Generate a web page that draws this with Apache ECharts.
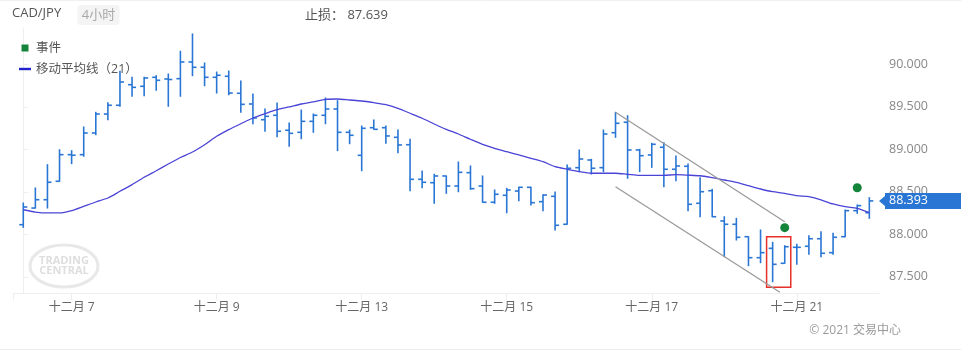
<!DOCTYPE html>
<html>
<head>
<meta charset="utf-8">
<script src="https://cdn.jsdelivr.net/npm/echarts@6/dist/echarts.min.js"></script>
<style>
  html, body { margin: 0; padding: 0; background: #fff; }
  #chart { width: 961px; height: 352px; }
</style>
</head>
<body>
<div id="chart"></div>
<script>
// 4h OHLC bars, CAD/JPY
var opens = [88.113, 88.309, 88.407, 88.624, 88.937, 88.937, 89.192, 89.415, 89.518, 89.760,
  89.741, 89.847, 89.827, 89.831, 90.027, 89.965, 89.847, 89.859, 89.659, 89.533,
  89.348, 89.400, 89.224, 89.200, 89.329, 89.400, 89.474, 89.200, 88.929, 89.254,
  89.254, 89.141, 89.054, 88.647, 88.607, 88.686, 88.568, 88.725, 88.568, 88.377,
  88.459, 88.509, 88.553, 88.384, 88.447, 88.118, 88.784, 88.874, 88.784, 89.195,
  89.318, 88.992, 88.933, 89.024, 88.765, 88.800, 88.365, 88.513, 88.157, 88.118,
  87.972, 87.725, 87.835, 87.659, 87.847, 87.859, 87.948, 87.784, 87.972, 88.278,
  88.254];
var highs = [88.368, 88.545, 88.819, 88.995, 88.984, 89.262, 89.435, 89.548, 89.918, 89.847,
  89.847, 89.866, 89.886, 90.153, 90.357, 90.015, 89.909, 89.921, 89.804, 89.651,
  89.474, 89.545, 89.309, 89.462, 89.415, 89.604, 89.572, 89.227, 89.274, 89.345,
  89.274, 89.227, 89.118, 88.745, 88.706, 88.686, 88.851, 88.804, 88.686, 88.521,
  88.541, 88.553, 88.553, 88.466, 88.498, 88.815, 88.992, 88.882, 89.227, 89.435,
  89.395, 89.000, 89.071, 89.078, 88.921, 88.827, 88.666, 88.529, 88.207, 88.188,
  87.972, 88.051, 87.906, 87.866, 87.882, 87.984, 88.031, 88.012, 88.286, 88.345,
  88.431];
var lows = [88.082, 88.309, 88.309, 88.624, 88.831, 88.918, 89.172, 89.348, 89.506, 89.624,
  89.631, 89.694, 89.506, 89.624, 89.866, 89.748, 89.662, 89.642, 89.435, 89.301,
  89.212, 89.148, 89.035, 89.125, 89.200, 89.301, 88.984, 89.066, 88.748, 89.235,
  89.071, 88.960, 88.513, 88.548, 88.365, 88.482, 88.501, 88.529, 88.377, 88.365,
  88.254, 88.395, 88.345, 88.278, 88.051, 88.118, 88.737, 88.709, 88.737, 89.141,
  88.659, 88.737, 88.788, 88.560, 88.631, 88.278, 88.207, 88.207, 87.737, 87.933,
  87.631, 87.666, 87.442, 87.659, 87.647, 87.765, 87.737, 87.765, 87.972, 88.247,
  88.188];
var closes = [88.321, 88.407, 88.612, 88.937, 88.930, 89.192, 89.415, 89.518, 89.792, 89.729,
  89.839, 89.812, 89.821, 90.027, 89.965, 89.847, 89.871, 89.662, 89.529, 89.368,
  89.388, 89.212, 89.188, 89.329, 89.400, 89.474, 89.200, 89.165, 89.247, 89.235,
  89.157, 89.051, 88.647, 88.612, 88.686, 88.568, 88.729, 88.537, 88.377, 88.471,
  88.521, 88.553, 88.372, 88.462, 88.106, 88.777, 88.886, 88.777, 89.180, 89.306,
  88.992, 88.925, 89.059, 88.765, 88.804, 88.353, 88.501, 88.207, 88.118, 87.965,
  87.725, 87.784, 87.647, 87.854, 87.847, 87.948, 87.777, 87.965, 88.278, 88.337,
  88.393];
// moving average (21)
var ma21 = [88.289, 88.262, 88.251, 88.251, 88.278, 88.329, 88.380, 88.427, 88.506, 88.584,
  88.671, 88.748, 88.827, 88.904, 88.968, 89.054, 89.153, 89.231, 89.301, 89.368,
  89.419, 89.466, 89.498, 89.533, 89.557, 89.588, 89.592, 89.580, 89.568, 89.548,
  89.525, 89.482, 89.424, 89.365, 89.298, 89.235, 89.180, 89.118, 89.059, 89.012,
  88.972, 88.933, 88.894, 88.854, 88.795, 88.765, 88.737, 88.718, 88.718, 88.718,
  88.706, 88.694, 88.694, 88.694, 88.701, 88.696, 88.689, 88.666, 88.639, 88.612,
  88.572, 88.533, 88.501, 88.482, 88.454, 88.442, 88.404, 88.357, 88.325, 88.306,
  88.254];

// x tick labels by bar index
var tickLabels = { 4: '十二月 7', 16: '十二月 9', 28: '十二月 13', 40: '十二月 15', 52: '十二月 17', 64: '十二月 21' };
var yTicks = [87.5, 88, 88.5, 89, 89.5, 90];

// event dots (bar index, price)
var eventIdx = [63, 69];
var eventVals = [88.078, 88.548];

// channel lines and highlight box
var upperLine = [[49, 89.435], [63, 88.148]];
var lowerLine = [[49, 88.560], [62.6, 87.318]];
var boxArea = [[61.5, 87.972], [63.5, 87.376]];

var stopLoss = '87.639';

var barColor = '#2a76d4';
var eventColor = '#13843a';
var font = "'Open Sans','Noto Sans CJK SC',sans-serif";

var ohlc = opens.map(function (o, i) { return [i, o, closes[i], lows[i], highs[i]]; });
var maData = ma21.map(function (v, i) { return [i, v]; });
var events = eventIdx.map(function (x, i) { return [x, eventVals[i]]; });

var chart = echarts.init(document.getElementById('chart'));

function renderBar(params, api) {
  var x = api.value(0);
  var o = api.coord([x, api.value(1)]);
  var c = api.coord([x, api.value(2)]);
  var l = api.coord([x, api.value(3)]);
  var h = api.coord([x, api.value(4)]);
  var t = 4;
  return {
    type: 'group',
    children: [
      { type: 'line', shape: { x1: h[0], y1: h[1] - 0.5, x2: l[0], y2: l[1] + 0.5 }, style: { stroke: barColor, lineWidth: 1.6 } },
      { type: 'line', shape: { x1: o[0] - t, y1: o[1], x2: o[0], y2: o[1] }, style: { stroke: barColor, lineWidth: 1.6 } },
      { type: 'line', shape: { x1: c[0], y1: c[1], x2: c[0] + t, y2: c[1] }, style: { stroke: barColor, lineWidth: 1.6 } }
    ]
  };
}

chart.setOption({
  animation: false,
  backgroundColor: '#fff',
  textStyle: { fontFamily: font },
  grid: { left: 13, right: 82, top: 28, bottom: 58.7 },
  legend: {
    orient: 'vertical',
    left: 14,
    top: 36,
    itemWidth: 12,
    itemHeight: 7,
    itemGap: 7,
    selectedMode: false,
    textStyle: { color: '#555', fontSize: 12.5, fontFamily: font, lineHeight: 14 },
    data: [
      { name: '事件', icon: 'path://M0,0h6v6h-6z', itemStyle: { color: eventColor, opacity: 1 } },
      { name: '移动平均线（21）', icon: 'path://M0,0h12v2.4h-12z', itemStyle: { color: '#2222cc' } }
    ]
  },
  xAxis: {
    type: 'value',
    min: -0.85,
    max: 70.8,
    splitLine: { show: false },
    axisLine: { show: true, lineStyle: { color: '#eeeeee' } },
    axisTick: { show: true, length: 7, lineStyle: { color: '#eeeeee' },
      customValues: [-0.85].concat(Object.keys(tickLabels).map(Number)) },
    axisLabel: {
      color: '#666', fontSize: 12, margin: 8,
      customValues: Object.keys(tickLabels).map(Number),
      formatter: function (v) { return tickLabels[v] || ''; }
    }
  },
  yAxis: {
    type: 'value',
    position: 'right',
    min: 87.306,
    max: 90.427,
    splitLine: { show: false },
    axisLine: { show: true, lineStyle: { color: '#eeeeee' } },
    axisTick: { show: true, length: 5, lineStyle: { color: '#eeeeee' }, customValues: yTicks },
    axisLabel: {
      color: '#888', fontSize: 12.5, margin: 10,
      customValues: yTicks,
      formatter: function (v) { return v.toFixed(3); }
    }
  },
  series: [
    {
      name: 'CAD/JPY',
      type: 'custom',
      renderItem: renderBar,
      encode: { x: 0, y: [1, 2, 3, 4] },
      data: ohlc,
      z: 2
    },
    {
      name: '移动平均线（21）',
      type: 'line',
      data: maData,
      symbol: 'none',
      smooth: 0.25,
      lineStyle: { color: '#4a44d6', width: 1.3 },
      itemStyle: { color: '#2222cc' },
      z: 3,
      markLine: {
        silent: true,
        symbol: 'none',
        label: { show: false },
        lineStyle: { color: '#9a9a9a', width: 1.3, type: 'solid' },
        data: [
          [{ coord: upperLine[0] }, { coord: upperLine[1] }],
          [{ coord: lowerLine[0] }, { coord: lowerLine[1] }]
        ]
      },
      markArea: {
        silent: true,
        itemStyle: { color: 'rgba(0,0,0,0)', borderColor: '#e8302a', borderWidth: 1.5 },
        data: [[{ coord: boxArea[0] }, { coord: boxArea[1] }]]
      }
    },
    {
      name: '事件',
      type: 'scatter',
      data: events,
      symbolSize: 9,
      itemStyle: { color: eventColor, opacity: 1 },
      z: 4
    }
  ]
});

// last price tag on the right axis
var lastClose = closes[closes.length - 1];
var py = chart.convertToPixel({ yAxisIndex: 0 }, lastClose);
var ax = chart.getWidth() - 82;

chart.setOption({
  graphic: [
    { type: 'line', shape: { x1: 0, y1: 0.5, x2: 961, y2: 0.5 }, style: { stroke: '#f0f0f0', lineWidth: 1 }, silent: true },
    { type: 'line', shape: { x1: 0, y1: 349.5, x2: 961, y2: 349.5 }, style: { stroke: '#ececec', lineWidth: 1 }, silent: true },
    { type: 'text', left: 12, top: 7, style: { text: 'CAD/JPY', fill: '#555', font: '13px ' + font } },
    { type: 'rect', shape: { x: 77.5, y: 5, width: 42, height: 20, r: 3 }, style: { fill: '#f4f4f4' }, silent: true },
    { type: 'text', x: 98.5, y: 15.5, style: { text: '4小时', fill: '#a8a8a8', font: '13px ' + font, align: 'center', verticalAlign: 'middle' } },
    { type: 'text', x: 305, y: 15.5, style: { text: '止损： ' + stopLoss, fill: '#555', font: '13px ' + font, verticalAlign: 'middle' } },
    { type: 'text', x: 901, y: 331, style: { text: '© 2021 交易中心', fill: '#9a9a9a', font: '12px ' + font, align: 'right', verticalAlign: 'middle' } },
    // watermark
    { type: 'ellipse', shape: { cx: 64, cy: 266, rx: 34, ry: 21 }, style: { fill: 'none', stroke: '#e8e8e8', lineWidth: 3 }, silent: true, z: 0 },
    { type: 'text', x: 64, y: 261, style: { text: 'TRADING', fill: '#dedede', font: 'bold 11px ' + font, align: 'center', verticalAlign: 'middle' }, silent: true, z: 0 },
    { type: 'text', x: 64, y: 271, style: { text: 'CENTRAL', fill: '#dedede', font: 'bold 11px ' + font, align: 'center', verticalAlign: 'middle' }, silent: true, z: 0 },
    // price tag
    {
      type: 'polygon', z: 10,
      shape: { points: [[ax, py], [ax + 6, py - 5], [ax + 6, py - 8], [961, py - 8], [961, py + 8], [ax + 6, py + 8], [ax + 6, py + 5]] },
      style: { fill: barColor }
    },
    { type: 'text', z: 11, x: ax + 10, y: py, style: { text: lastClose.toFixed(3), fill: '#fff', font: '12.5px ' + font, verticalAlign: 'middle' } }
  ]
});
</script>
</body>
</html>
